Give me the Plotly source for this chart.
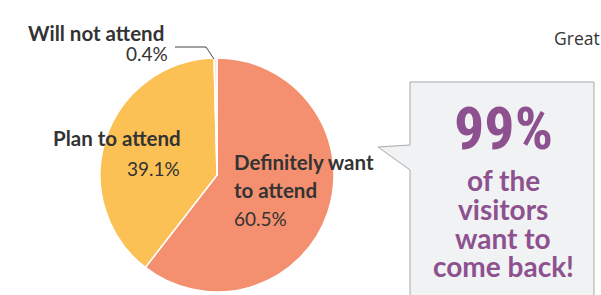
import plotly.graph_objects as go

# Data
categories = ["Definitely want to attend", "Plan to attend", "Will not attend"]
values = [60.5, 39.1, 0.4]
colors = ["#F4906F", "#FBC155", "#FCE6D8"]

W, H = 601, 295
DARK = "#333333"
PURPLE = "#8E5190"
FONT = "Lato, 'Noto Sans', sans-serif"

fig = go.Figure()

fig.add_trace(go.Pie(
    labels=categories,
    values=values,
    marker=dict(colors=colors, line=dict(color="white", width=1.5)),
    sort=False,
    direction="clockwise",
    rotation=0,
    textinfo="none",
    hoverinfo="label+percent",
    showlegend=False,
    domain=dict(x=[100 / W, 334 / W], y=[3 / H, 237 / H]),
))

# helper pixel axes (hidden) for callout and labels
fig.add_trace(go.Scatter(x=[0, W], y=[0, H], mode="markers",
                         marker=dict(opacity=0), hoverinfo="skip", showlegend=False))

shapes = [
    # callout box with pointer
    dict(type="path", xref="x", yref="y",
         path="M 410,82 L 594,82 L 594,300 L 410,300 L 410,170 L 378,147 L 410,145 Z",
         fillcolor="#F1F2F4", line=dict(color="#A8A8A8", width=1), layer="below"),
    # leader line for small slice
    dict(type="path", xref="x", yref="y",
         path="M 175,47 L 206,47 L 214,59",
         line=dict(color="#444444", width=1)),
]

def ann(text, x, y, size, color=DARK, xanchor="left", font=FONT):
    return dict(text=text, x=x, y=y, xref="x", yref="y", showarrow=False,
                xanchor=xanchor, yanchor="middle",
                font=dict(size=size, color=color, family=font))

annotations = [
    ann("<b>Will not attend</b>", 166, 33, 20.5, xanchor="right"),
    ann(f"{values[2]}%", 170, 53, 19, xanchor="right"),
    ann("<b>Plan to attend</b>", 183, 138, 20.5, xanchor="right"),
    ann(f"{values[1]}%", 182, 168, 19, xanchor="right"),
    ann("<b>Definitely want</b>", 232, 162, 20.5),
    ann("<b>to attend</b>", 232, 190, 20.5),
    ann(f"{values[0]}%", 232, 218, 19),
    ann("<b>99%</b>", 503, 128, 60, color=PURPLE, xanchor="center",
        font="'Roboto Condensed', 'Open Sans Condensed', sans-serif"),
    ann("<b>of the</b>", 503, 180, 28, color=PURPLE, xanchor="center"),
    ann("<b>visitors</b>", 503, 209, 28, color=PURPLE, xanchor="center"),
    ann("<b>want to</b>", 503, 238, 28, color=PURPLE, xanchor="center"),
    ann("<b>come back!</b>", 503, 266, 28, color=PURPLE, xanchor="center"),
    ann("Great", 552, 38, 17.5, font="'Open Sans', sans-serif"),
]

fig.update_layout(
    width=W, height=H,
    margin=dict(l=0, r=0, t=0, b=0),
    paper_bgcolor="white", plot_bgcolor="rgba(0,0,0,0)",
    xaxis=dict(range=[0, W], visible=False, fixedrange=True),
    yaxis=dict(range=[H, 0], visible=False, fixedrange=True),
    shapes=shapes,
    annotations=annotations,
    showlegend=False,
)

fig.write_html("out.html", config={"displayModeBar": False},
               post_script="document.body.style.margin='0';")
